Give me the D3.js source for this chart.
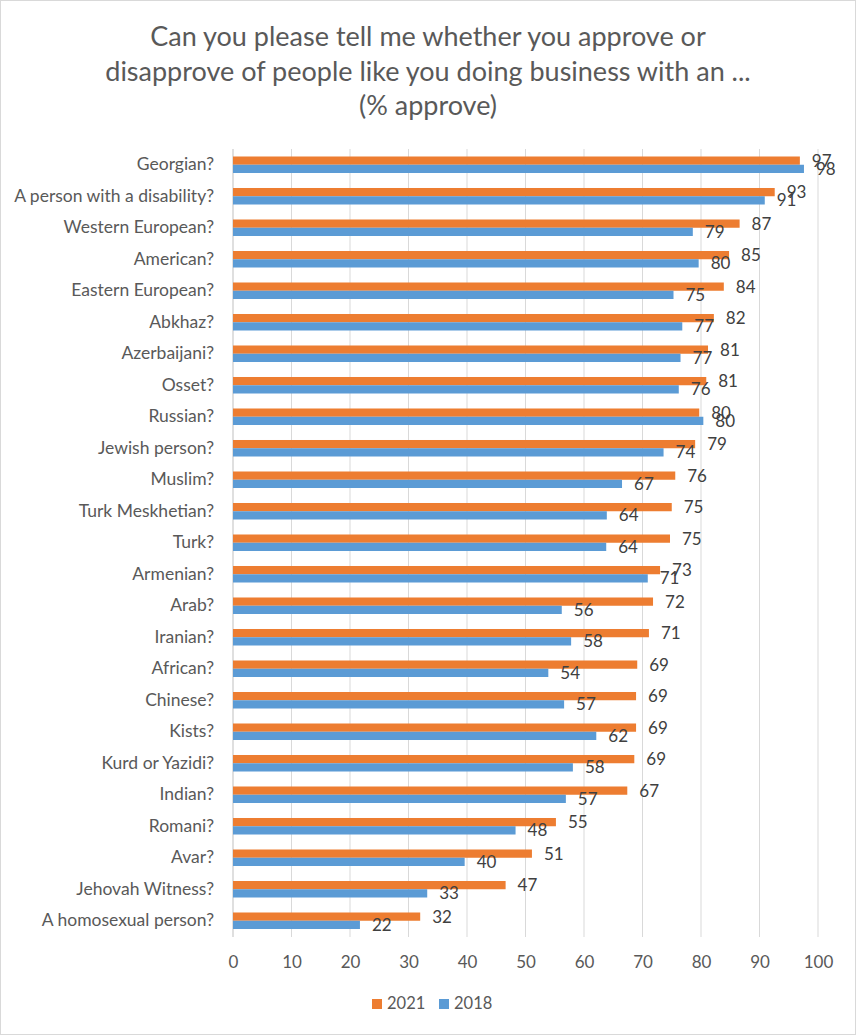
<!DOCTYPE html>
<html>
<head>
<meta charset="utf-8">
<script src="https://cdn.jsdelivr.net/npm/d3@7"></script>
<style>
  html, body { margin: 0; padding: 0; background: #fff; }
  svg { display: block; }
  text { font-family: Lato, "Open Sans", sans-serif; }
</style>
</head>
<body>
<div id="chart"></div>
<script>
const categories = [
  "Georgian?", "A person with a disability?", "Western European?", "American?",
  "Eastern European?", "Abkhaz?", "Azerbaijani?", "Osset?", "Russian?",
  "Jewish person?", "Muslim?", "Turk Meskhetian?", "Turk?", "Armenian?",
  "Arab?", "Iranian?", "African?", "Chinese?", "Kists?", "Kurd or Yazidi?",
  "Indian?", "Romani?", "Avar?", "Jehovah Witness?", "A homosexual person?"
];
const values2021 = [96.9, 92.6, 86.6, 84.8, 83.9, 82.2, 81.2, 80.9, 79.7, 79.0,
  75.6, 75.0, 74.7, 73.0, 71.8, 71.1, 69.1, 68.9, 68.9, 68.6,
  67.4, 55.2, 51.1, 46.6, 32.0];
const values2018 = [97.6, 90.9, 78.6, 79.6, 75.3, 76.8, 76.5, 76.2, 80.4, 73.6,
  66.5, 63.9, 63.8, 70.9, 56.2, 57.8, 53.9, 56.6, 62.1, 58.1,
  56.9, 48.3, 39.6, 33.2, 21.7];
const seriesNames = ["2021", "2018"];
const xTicks = [0, 10, 20, 30, 40, 50, 60, 70, 80, 90, 100];
const titleLines = [
  "Can you please tell me whether you approve or",
  "disapprove of people like you doing business with an ...",
  "(% approve)"
];

const W = 856, H = 1035;
const colors = { "2021": "#ED7D31", "2018": "#5B9BD5" };
const seriesValues = { "2021": values2021, "2018": values2018 };

const svg = d3.select("#chart").append("svg")
  .attr("width", W).attr("height", H);

svg.append("rect").attr("x", 0.5).attr("y", 0.5)
  .attr("width", W - 1).attr("height", H - 1)
  .attr("fill", "#fff").attr("stroke", "#d9d9d9");

// Title
svg.append("g").selectAll("text").data(titleLines).join("text")
  .attr("x", 428).attr("y", (d, i) => 46 + i * 34.5)
  .attr("text-anchor", "middle")
  .attr("fill", "#595959")
  .style("font-size", "27px")
  .text(d => d);

const x = d3.scaleLinear().domain([0, 100]).range([233, 818]);
const y = d3.scaleBand().domain(categories).range([149, 936.5])
  .paddingInner(0.476).paddingOuter(0.238);
const ySub = d3.scaleBand().domain(seriesNames).range([0, y.bandwidth()]);

// Gridlines
svg.append("g").selectAll("line").data(xTicks.slice(1)).join("line")
  .attr("x1", d => x(d)).attr("x2", d => x(d))
  .attr("y1", 149).attr("y2", 937)
  .attr("stroke", "#d9d9d9").attr("stroke-width", 1);

// Category axis line
svg.append("line").attr("x1", x(0)).attr("x2", x(0))
  .attr("y1", 149).attr("y2", 937)
  .attr("stroke", "#bfbfbf").attr("stroke-width", 1);

// Bars
const groups = svg.append("g").selectAll("g").data(categories).join("g")
  .attr("transform", d => `translate(0,${y(d)})`);

seriesNames.forEach(s => {
  groups.append("rect")
    .attr("x", x(0))
    .attr("y", ySub(s))
    .attr("width", (d, i) => x(seriesValues[s][i]) - x(0))
    .attr("height", ySub.bandwidth())
    .attr("fill", colors[s]);
  groups.append("text")
    .attr("x", (d, i) => x(seriesValues[s][i]) + 12)
    .attr("y", ySub(s) + ySub.bandwidth() / 2)
    .attr("dy", "0.36em")
    .attr("fill", "#404040")
    .style("font-size", "17px")
    .text((d, i) => Math.round(seriesValues[s][i]));
});

// Category labels
const yAxis = d3.axisLeft(y).tickSize(0).tickPadding(19);
const gy = svg.append("g").attr("transform", `translate(${x(0)},0)`).call(yAxis);
gy.select(".domain").remove();
gy.selectAll("text").attr("fill", "#595959").style("font-size", "17.5px")
  .style("font-family", "Lato, 'Open Sans', sans-serif");

// X axis tick labels
const xAxis = d3.axisBottom(x).tickValues(xTicks).tickSize(0).tickPadding(0);
const gx = svg.append("g").attr("transform", `translate(0,956)`).call(xAxis);
gx.select(".domain").remove();
gx.selectAll("text").attr("fill", "#595959").style("font-size", "17px")
  .style("font-family", "Lato, 'Open Sans', sans-serif").attr("dy", "0.71em");

// Legend
const legend = svg.append("g");
const legendX = [372, 439];
seriesNames.forEach((s, i) => {
  legend.append("rect").attr("x", legendX[i]).attr("y", 999)
    .attr("width", 10).attr("height", 10).attr("fill", colors[s]);
  legend.append("text").attr("x", legendX[i] + 15).attr("y", 1009)
    .attr("fill", "#595959")
    .style("font-size", "16.5px").text(s);
});
</script>
</body>
</html>
